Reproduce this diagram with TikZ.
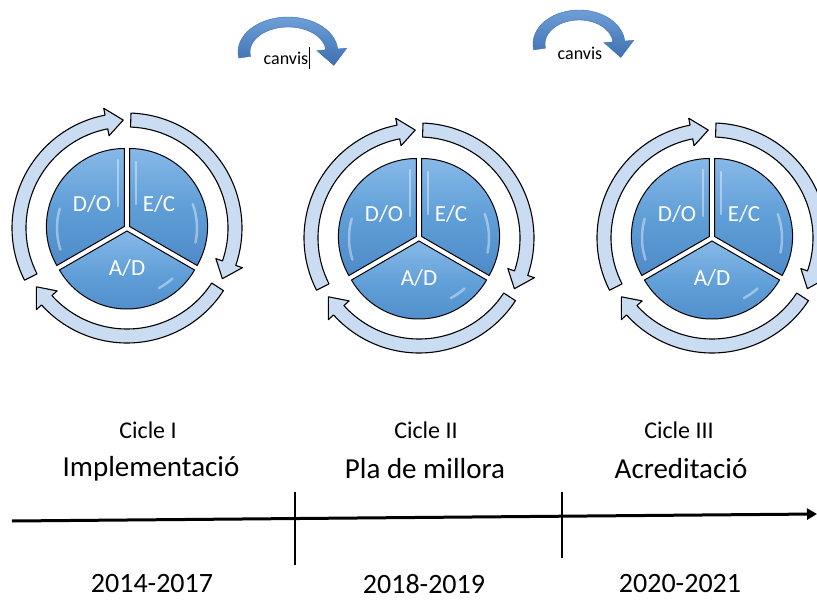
\documentclass[tikz,border=0pt]{standalone}
\usepackage{fontspec}
\setmainfont{Carlito}
\usepackage{tikz}
\usetikzlibrary{calc,arrows.meta}

\definecolor{pieblue}{RGB}{95,158,215}
\definecolor{piedark}{RGB}{78,138,200}
\definecolor{pielight}{RGB}{135,185,232}
\definecolor{ringblue}{RGB}{202,220,241}
\definecolor{canvisdark}{RGB}{62,112,178}
\definecolor{canvislight}{RGB}{112,160,216}

\tikzset{
  ringarrow/.style={draw=black, line width=1.1pt, fill=ringblue, line join=round},
  slice/.style={draw=black, line width=1pt, top color=pielight, bottom color=piedark, middle color=pieblue},
  gloss/.style={draw=white, opacity=0.4, line width=2.5pt, line cap=round},
  slicetext/.style={text=white, font=\fontsize{23}{25}\selectfont},
  canvisarrow/.style={draw=canvisdark, line width=0.4pt, top color=canvislight, bottom color=canvisdark},
  canvistext/.style={font=\fontsize{18}{20}\selectfont},
  ciclelabel/.style={font=\fontsize{24}{26}\selectfont},
  phaselabel/.style={font=\fontsize{29}{31}\selectfont},
  yearlabel/.style={font=\fontsize{28}{30}\selectfont, inner sep=0pt}
}

\def\ringout{115}
\def\ringin{101}
\def\ringmid{108}

% clockwise ring arrow round #1, from angle #2 to the tip at #3
\newcommand{\ringarrow}[3]{%
  \draw[ringarrow] ($(#1)+(#2:\ringout)$)
    arc[start angle=#2, end angle=#3-9, radius=\ringout]
    -- ($(#1)+({#3-9}:{\ringout+7})$)
    -- ($(#1)+(#3:\ringmid)$)
    -- ($(#1)+({#3-9}:{\ringin-7})$)
    -- ($(#1)+({#3-9}:\ringin)$)
    arc[start angle=#3-9, end angle=#2, radius=\ringin] -- cycle;}

% one cycle: three slices and three ring arrows
\newcommand{\cycleat}[2]{%
  \coordinate (#1) at #2;
  \foreach \ts in {150,270,30}{
    \coordinate (#1-o) at ($(#1)+({\ts+60}:3)$);
    \draw[slice] (#1-o) -- ($(#1-o)+(\ts:78)$)
      arc[start angle=\ts, end angle=\ts+120, radius=78] -- cycle;
  }
  % glossy streaks
  \draw[gloss] ($(#1)+(-9,-68)$) -- ($(#1)+(-9,-22)$);
  \draw[gloss] ($(#1)+(9,-66)$) -- ($(#1)+(9,-24)$);
  \draw[gloss] ($(#1)+(162:70)$) arc[start angle=162, end angle=196, radius=70];
  \draw[gloss] ($(#1)+(340:70)$) arc[start angle=340, end angle=372, radius=70];
  \draw[gloss] ($(#1)+(48:68)$) arc[start angle=48, end angle=62, radius=68];
  \node[slicetext] (#1-do) at ($(#1)+(-35,-24)$) {D/O};
  \node[slicetext] (#1-ec) at ($(#1)+(32,-24)$) {E/C};
  \node[slicetext] (#1-ad) at ($(#1)+(0,40)$) {A/D};
  \ringarrow{#1}{153}{268}
  \ringarrow{#1}{272}{388}
  \ringarrow{#1}{33}{147}
}

% curved "canvis" arrow: #1 centre, #2 x radius, #3 y radius
\newcommand{\canvisarc}[3]{%
  \draw[canvisarrow] ($(#1)+({#2*cos(170)},{#3*sin(170)})$)
    arc[start angle=170, end angle=355, x radius=#2, y radius=#3]
    -- ($(#1)+({(#2+9)*cos(355)},{(#3+9)*sin(355)})$)
    -- ($(#1)+({(#2-6)*cos(355)+2},{(#3-5)*sin(355)+16})$)
    -- ($(#1)+({(#2-21)*cos(355)},{(#3-19)*sin(355)})$)
    -- ($(#1)+({(#2-12)*cos(355)},{(#3-10)*sin(355)})$)
    arc[start angle=355, end angle=170, x radius=#2-12, y radius=#3-10] -- cycle;}

\begin{document}
\begin{tikzpicture}[x=1pt, y=-1pt]
  \useasboundingbox (0,0) rectangle (817,602);

  % changes between cycles
  \coordinate (arc1) at (288,52);
  \coordinate (arc2) at (579,44);
  \canvisarc{arc1}{50}{35}
  \canvisarc{arc2}{46}{34}
  \node[canvistext] (canvis1) at (286,58) {canvis};
  \node[canvistext] (canvis2) at (580,53) {canvis};
  \draw[line width=0.8pt] ($(canvis1.east)+(-2,-11)$) -- ($(canvis1.east)+(-2,11)$);

  % the three cycles
  \cycleat{c1}{(127,228)}
  \cycleat{c2}{(419,238)}
  \cycleat{c3}{(712,238)}

  % labels
  \node[ciclelabel] (cicle1) at (148,430) {Cicle I};
  \node[ciclelabel] (cicle2) at (426,430) {Cicle II};
  \node[ciclelabel] (cicle3) at (679,430) {Cicle III};
  \node[phaselabel] (phase1) at (151,469) {Implementació};
  \node[phaselabel] (phase2) at (425,469) {Pla de millora};
  \node[phaselabel] (phase3) at (681,469) {Acreditació};
  \node[yearlabel] (year1) at (152,584) {2014-2017};
  \node[yearlabel] (year2) at (424,584) {2018-2019};
  \node[yearlabel] (year3) at (680,584) {2020-2021};

  % timeline
  \coordinate (start) at (12,521);
  \coordinate (end) at (817,514);
  \coordinate (tick1a) at (295,492);
  \coordinate (tick1b) at (295,565);
  \coordinate (tick2a) at (562,492);
  \coordinate (tick2b) at (562,558);
  \draw[line width=3pt, -{Triangle[length=10pt,width=11pt]}] (start) -- (end);
  \draw[line width=2pt] (tick1a) -- (tick1b);
  \draw[line width=2pt] (tick2a) -- (tick2b);
\end{tikzpicture}
\end{document}
